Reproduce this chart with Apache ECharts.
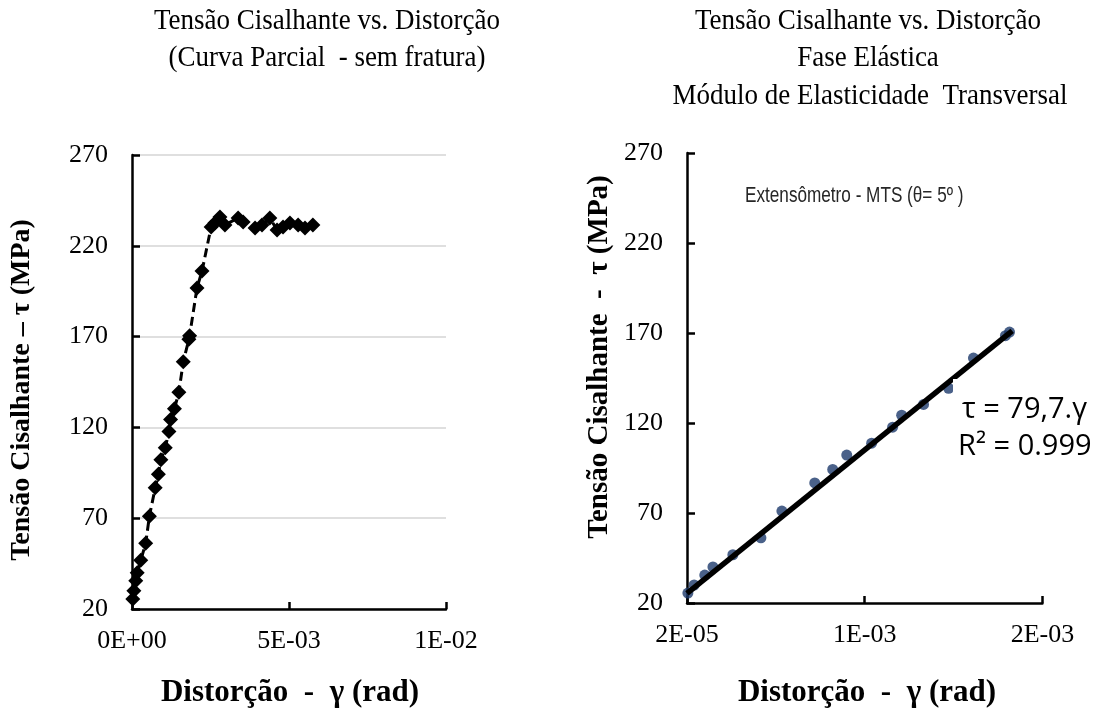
<!DOCTYPE html>
<html>
<head>
<meta charset="utf-8">
<script src="https://cdn.jsdelivr.net/npm/echarts@6/dist/echarts.min.js"></script>
<style>
  html, body { margin: 0; padding: 0; background: #fff; }
  #chart { width: 1105px; height: 717px; }
</style>
</head>
<body>
<div id="chart"></div>
<script>
// Shear strain γ (rad) and shear stress τ (MPa) — elastic stage
const elasticGamma = [0.000025, 0.00006, 0.00012, 0.000166, 0.000278, 0.000436, 0.000554, 0.000739, 0.00084, 0.000919, 0.001059, 0.001177, 0.001228, 0.001351, 0.001492, 0.001632, 0.001812, 0.001835];
const elasticTau   = [25.5, 30.0, 35.5, 40.0, 46.8, 56.2, 71.1, 86.7, 94.2, 102.2, 108.8, 117.7, 124.3, 130.3, 139.3, 156.1, 168.5, 170.5];

// Beyond the elastic limit (partial curve, no fracture)
const plasticGamma = [0.00207, 0.00223, 0.00252, 0.00264, 0.0028, 0.00296, 0.00338, 0.00354, 0.00392, 0.00414, 0.00439, 0.00462, 0.00481, 0.00503, 0.00529, 0.00551, 0.00576];
const plasticTau   = [196.8, 206.1, 230.4, 232.6, 235.9, 231.5, 235.3, 233.1, 229.8, 231.5, 235.3, 228.7, 230.4, 232.6, 231.5, 229.8, 231.5];

// Linear fit of the elastic stage: τ = G·γ + b  (G in GPa)
const fitModulusGPa = 79.7;
const fitIntercept = 23.7;
const fitGammaRange = [0.00002, 0.00185];
const fitR2 = '0.999';

// Axis ticks
const tauTicks = [20, 70, 120, 170, 220, 270];
const leftGammaTicks = [0, 0.005, 0.01];
const leftGammaLabels = ['0E+00', '5E-03', '1E-02'];
const rightGammaTicks = [0.00002, 0.00102, 0.00202];
const rightGammaLabels = ['2E-05', '1E-03', '2E-03'];

const SERIF = '"Liberation Serif", "Times New Roman", serif';
const SANS = '"Liberation Sans", Arial, sans-serif';

const pairs = (xs, ys) => xs.map((x, i) => [x, ys[i]]);
const fullCurve = pairs(elasticGamma.concat(plasticGamma), elasticTau.concat(plasticTau));
const elasticPoints = pairs(elasticGamma, elasticTau);
const fitLine = fitGammaRange.map(g => [g, fitModulusGPa * 1000 * g + fitIntercept]);

const labelFor = (ticks, labels) => v => {
  let best = 0;
  ticks.forEach((t, i) => { if (Math.abs(t - v) < Math.abs(ticks[best] - v)) best = i; });
  return labels[best];
};

const axisLineStyle = { color: '#000', width: 2.5 };
const tickLabelStyle = { fontFamily: SERIF, fontSize: 26, color: '#000' };

function gammaAxis(gridIndex, min, max, ticks, labels) {
  return {
    type: 'value', gridIndex, min, max,
    axisLine: { show: true, lineStyle: axisLineStyle },
    axisTick: { show: true, inside: true, length: 7, lineStyle: axisLineStyle, customValues: ticks },
    axisLabel: { customValues: ticks, margin: 19, formatter: labelFor(ticks, labels), ...tickLabelStyle },
    splitLine: { show: false }
  };
}

function tauAxis(gridIndex, withGrid) {
  return {
    type: 'value', gridIndex, min: 20, max: 270,
    axisLine: { show: true, lineStyle: axisLineStyle },
    axisTick: { show: true, inside: true, length: 8, lineStyle: axisLineStyle, customValues: tauTicks },
    axisLabel: { customValues: tauTicks, margin: 24, ...tickLabelStyle },
    splitLine: { show: withGrid, lineStyle: { color: '#d4d4d4', width: 1.5 } }
  };
}

function text(x, y, str, font, extra, align) {
  return Object.assign({
    type: 'text', x, y, z: 10,
    style: { text: str, font, fill: '#000', align: align || 'center', verticalAlign: 'middle' }
  }, extra || {});
}

const titleFont = '27px ' + SERIF;
const nameFontY = 'bold 28px ' + SERIF;
const nameFontYRight = 'bold 29px ' + SERIF;
const nameFontX = 'bold 31px ' + SERIF;
const eqFont = '29px "Open Sans", sans-serif';
const tall = { scaleY: 1.12 };

const chart = echarts.init(document.getElementById('chart'), null, { renderer: 'canvas' });
chart.setOption({
  animation: false,
  backgroundColor: '#fff',
  grid: [
    { left: 132, top: 155, width: 314, height: 454 },
    { left: 687, top: 153, width: 355.4, height: 450 }
  ],
  xAxis: [
    gammaAxis(0, 0, 0.01, leftGammaTicks, leftGammaLabels),
    gammaAxis(1, 0.00002, 0.00202, rightGammaTicks, rightGammaLabels)
  ],
  yAxis: [
    tauAxis(0, true),
    tauAxis(1, false)
  ],
  series: [
    {
      type: 'line', xAxisIndex: 0, yAxisIndex: 0,
      data: fullCurve,
      symbol: 'diamond', symbolSize: 15, showAllSymbol: true,
      itemStyle: { color: '#000' },
      lineStyle: { color: '#000', width: 3, type: [9, 5] },
      z: 3
    },
    {
      type: 'line', xAxisIndex: 1, yAxisIndex: 1,
      data: fitLine, symbol: 'none',
      lineStyle: { color: '#000', width: 5.5 },
      z: 4
    },
    {
      type: 'scatter', xAxisIndex: 1, yAxisIndex: 1,
      data: elasticPoints, symbol: 'circle', symbolSize: 11,
      itemStyle: { color: '#1d3a6c' },
      z: 3
    }
  ],
  graphic: [
    // panel titles
    text(327, 21, 'Tensão Cisalhante vs. Distorção', titleFont, tall),
    text(327, 58, '(Curva Parcial  - sem fratura)', titleFont, tall),
    text(868, 21, 'Tensão Cisalhante vs. Distorção', titleFont, tall),
    text(868, 58, 'Fase Elástica', titleFont, tall),
    text(870, 96, 'Módulo de Elasticidade  Transversal', titleFont, tall),
    // axis names
    text(22, 390, 'Tensão Cisalhante – τ (MPa)', nameFontY, { rotation: Math.PI / 2 }),
    text(600, 357, 'Tensão Cisalhante  -  τ (MPa)', nameFontYRight, { rotation: Math.PI / 2 }),
    text(290, 693, 'Distorção  -  γ (rad)', nameFontX),
    text(867, 693, 'Distorção  -  γ (rad)', nameFontX),
    // fit equation box (its white background clips a corner of the fitted line)
    { type: 'rect', z: 9, shape: { x: 953, y: 379, width: 147, height: 86 }, style: { fill: '#fff' } },
    text(962, 410, 'τ = ' + String(fitModulusGPa).replace('.', ',') + '.γ', eqFont, null, 'left'),
    text(958, 447, 'R² = ' + fitR2, eqFont, null, 'left'),
    // instrument note
    { type: 'text', x: 745, y: 196, z: 10, scaleX: 0.78,
      style: { text: 'Extensômetro - MTS (θ= 5º )', font: '22px ' + SANS, fill: '#262626', align: 'left', verticalAlign: 'middle' } }
  ]
});
</script>
</body>
</html>
